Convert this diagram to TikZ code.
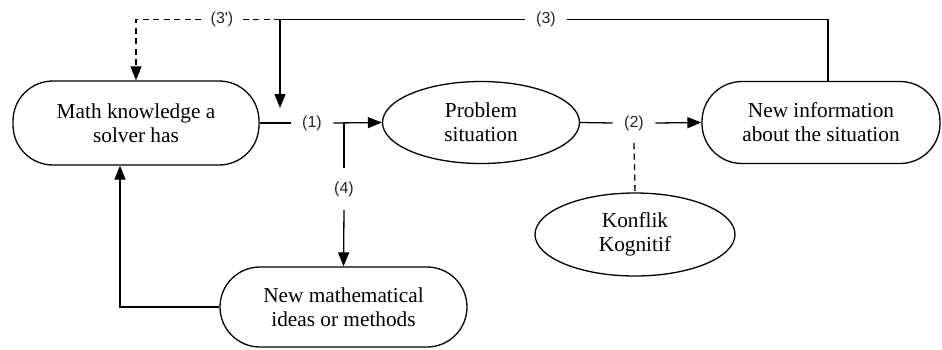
\documentclass[tikz,border=0pt]{standalone}
\usepackage{fontspec}
\setmainfont{Liberation Serif}
\newfontfamily\lblfont{Liberation Sans}
\usetikzlibrary{arrows.meta,shapes.geometric}
\tikzset{
  pill/.style={draw, rounded corners=40pt, align=center, font=\fontsize{21.3}{24}\selectfont},
  oval/.style={draw, ellipse, inner sep=0pt, align=center, font=\fontsize{21.3}{24}\selectfont},
  lbl/.style={inner xsep=11pt, inner ysep=12pt, font=\lblfont\fontsize{16}{18}\selectfont, text=black!85},
  arr/.style={-{Triangle[length=14pt,width=11pt]}},
  dsh/.style={dash pattern=on 6pt off 4.5pt}
}
\begin{document}
\begin{tikzpicture}[x=1pt,y=-1pt, line width=1.3pt]
\useasboundingbox (0,0) rectangle (942,349);
% nodes
\node[pill, minimum width=246pt, minimum height=84pt] (A) at (136,123) {Math knowledge a\\solver has};
\node[oval, minimum width=197pt, minimum height=82pt] (B) at (481,122.5) {Problem\\situation};
\node[pill, minimum width=238pt, minimum height=82pt] (C) at (821,122.5) {New information\\about the situation};
\node[pill, minimum width=247pt, minimum height=80pt] (D) at (343.5,307) {New mathematical\\ideas or methods};
\node[oval, minimum width=200pt, minimum height=83pt] (E) at (635,234.5) {Konflik\\Kognitif};
% labels
\node[lbl] (l1) at (312,123) {(1)};
\node[lbl] (l2) at (634,123) {(2)};
\node[lbl] (l3) at (546,19.5) {(3)};
\node[lbl, inner xsep=9pt] (l3p) at (222,19.5) {(3')};
\node[lbl, inner ysep=13pt] (l4) at (344,189) {(4)};
% coordinates
\coordinate (j1) at (344,123);
\coordinate (t1) at (280,19.5);
\coordinate (k1) at (280,108);
% connectors
\draw (A.east) -- (l1.west);
\draw[arr] (l1.east) -- (B.west);
\draw (j1) -- (l4.north);
\draw[arr] (l4.south) -- (D.north);
\draw[arr] (D.west) -| ([xshift=-16pt]A.south);
\draw (B.east) -- (l2.west);
\draw[arr] (l2.east) -- (C.west);
\draw[dsh] (l2.south) -- (E.north);
\draw ([xshift=7pt]C.north) |- (l3.east);
\draw (l3.west) -- (t1);
\draw[arr] (t1) -- (k1);
\draw[dsh] (t1) -- (l3p.east);
\draw[dsh, arr] (l3p.west) -| (A.north);
\end{tikzpicture}
\end{document}
